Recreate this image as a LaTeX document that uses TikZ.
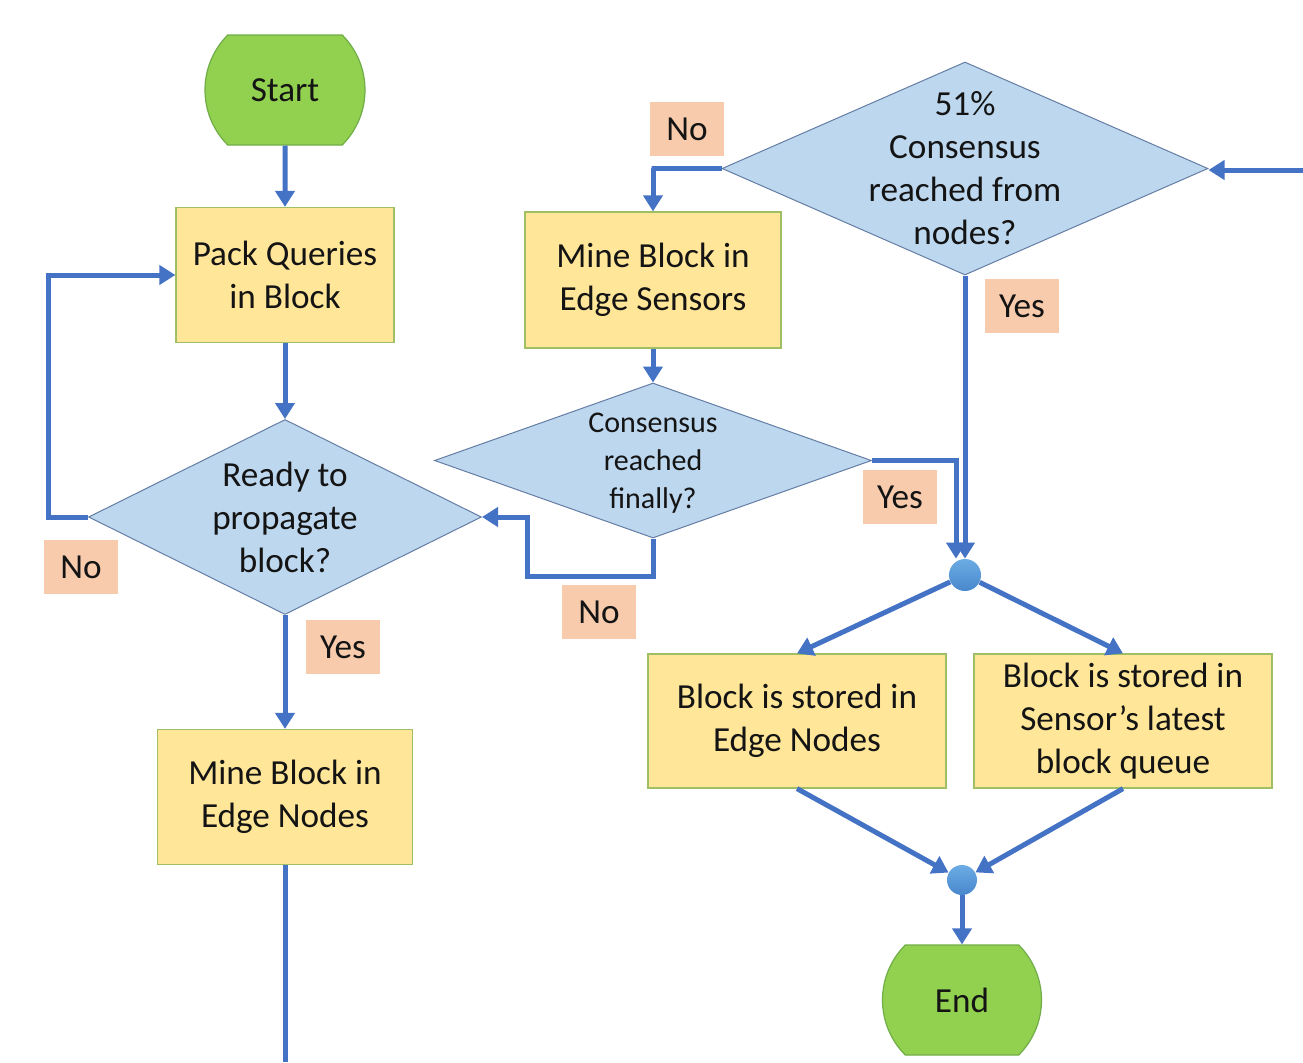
\documentclass[tikz,border=0pt]{standalone}
\usepackage{fontspec}
\setmainfont{Carlito}
\usetikzlibrary{shapes.geometric,shapes.misc,arrows.meta,calc}
\definecolor{arrblue}{RGB}{68,114,196}
\definecolor{termgreen}{RGB}{146,208,80}
\definecolor{termborder}{RGB}{112,173,71}
\definecolor{boxyellow}{RGB}{255,230,153}
\definecolor{boxborder}{RGB}{160,190,100}
\definecolor{diafill}{RGB}{189,215,238}
\definecolor{diaborder}{RGB}{100,125,165}
\definecolor{lblfill}{RGB}{248,203,173}
\definecolor{dottop}{RGB}{108,172,228}
\definecolor{dotbot}{RGB}{72,136,204}
\definecolor{txt}{RGB}{20,20,20}
\begin{document}
\begin{tikzpicture}[x=0.5pt,y=-0.5pt,
 every node/.style={font=\fontsize{17.6}{21.5}\selectfont, text=txt},
 term/.style={rounded rectangle, rounded rectangle arc length=90, fill=termgreen, draw=termborder, line width=0.6pt, minimum width=80pt, minimum height=55pt, inner sep=0pt},
 proc/.style={rectangle, fill=boxyellow, draw=boxborder, line width=0.6pt, align=center, inner sep=0pt},
 dec/.style={diamond, fill=diafill, draw=diaborder, line width=0.5pt, inner sep=0pt},
 dectext/.style={align=center, inner sep=0pt},
 lbl/.style={rectangle, fill=lblfill, minimum width=37pt, minimum height=27pt, inner sep=0pt},
 jdot/.style={circle, top color=dottop, bottom color=dotbot, inner sep=0pt},
 arr/.style={draw=arrblue, line width=2.5pt, -{Triangle[width=9.5pt,length=8pt]}},
 conn/.style={draw=arrblue, line width=2.5pt},
]
\useasboundingbox (0,0) rectangle (1303,1062);

% terminals
\node[term] (start) at (285,90) {Start};
\node[term, minimum width=79.5pt] (endt) at (962,1000) {End};

% process boxes
\node[proc, minimum width=109pt, minimum height=67.5pt] (pack) at (285,275) {Pack Queries\\in Block};
\node[proc, minimum width=127.5pt, minimum height=67.5pt] (mbn) at (285,797) {Mine Block in\\Edge Nodes};
\node[proc, minimum width=128pt, minimum height=68pt] (mbs) at (653,280) {Mine Block in\\Edge Sensors};
\node[proc, minimum width=149pt, minimum height=67pt] (bs1) at (797,721) {Block is stored in\\Edge Nodes};
\node[proc, minimum width=149pt, minimum height=67pt] (bs2) at (1123,721) {Block is stored in\\Sensor’s latest\\block queue};

% decisions
\node[dec, minimum width=196.5pt, minimum height=97.5pt,
  label={[dectext]center:Ready to\\propagate\\block?}] (ready) at (285,517) {};
\node[dec, minimum width=218.5pt, minimum height=77.5pt,
  label={[dectext, font=\fontsize{15}{19}\selectfont, yshift=-1.5pt]center:Consensus\\reached\\finally?}] (cf) at (653,460.5) {};
\node[dec, minimum width=243pt, minimum height=106.5pt,
  label={[dectext]center:51\%\\Consensus\\reached from\\nodes?}] (c51) at (965,168.5) {};

% junction dots
\node[jdot, minimum size=16pt] (d1) at (965,575) {};
\node[jdot, minimum size=15pt] (d2) at (962,880) {};

% free ends
\coordinate (bot) at (285,1062);
\coordinate (rin) at (1303,170);

% labels
\node[lbl] (lno1) at (687,129) {No};
\node[lbl] (lyes1) at (1022,306) {Yes};
\node[lbl] (lyes2) at (900,497) {Yes};
\node[lbl] (lno2) at (599,612) {No};
\node[lbl] (lno3) at (81,567) {No};
\node[lbl] (lyes3) at (343,647) {Yes};

% connectors
\draw[arr] (start) -- (pack);
\draw[arr] (pack) -- (ready.north);
\draw[arr] (ready.west) -- ++(-40,0) |- (pack.west);
\draw[arr] (ready.south) -- (mbn.north);
\draw[conn] (mbn.south) -- (bot);
\draw[arr] (mbs.south) -- (cf.north);
\draw[arr] (cf.south) |- ++(-126,38) |- (ready.east);
\draw[arr] (cf.east) -| ($(d1.north)+(-9,0)$);
\draw[arr] (c51.south) -- (d1.north);
\draw[arr] (c51.west) -- ++(-70,0) -| (mbs.north);
\draw[arr] (rin) -- (c51.east |- rin);
\draw[arr] (d1) -- (bs1.north);
\draw[arr] (d1) -- (bs2.north);
\draw[arr] (bs1.south) -- (d2);
\draw[arr] (bs2.south) -- (d2);
\draw[arr] (d2) -- (endt.north);
\end{tikzpicture}
\end{document}
